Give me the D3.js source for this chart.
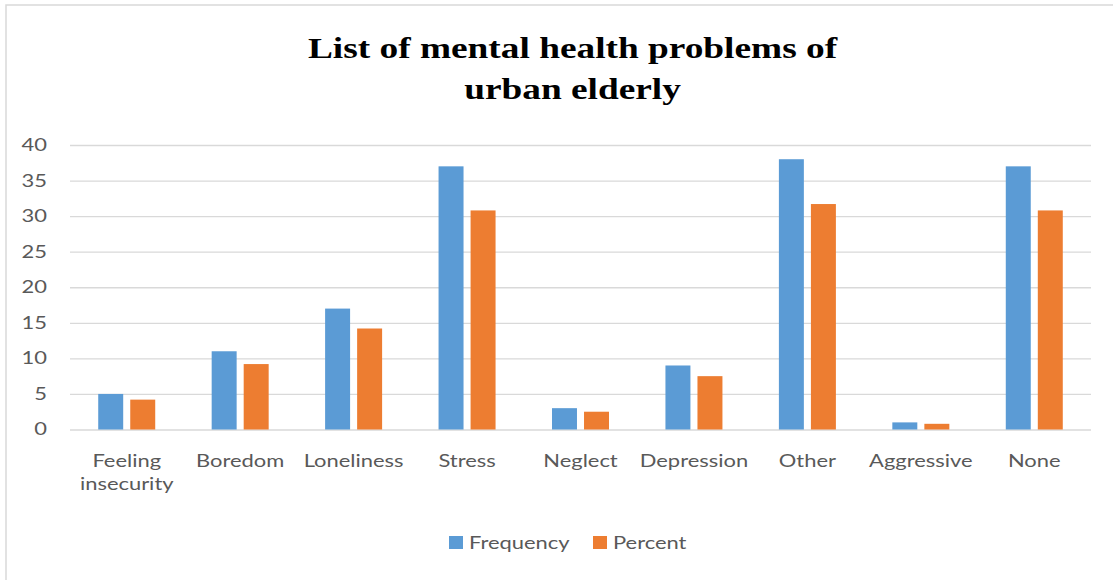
<!DOCTYPE html>
<html><head><meta charset="utf-8">
<script src="https://cdn.jsdelivr.net/npm/d3@7"></script>
<style>body{margin:0;background:#fff;} svg{display:block;}</style>
</head><body>
<svg id="c" width="1113" height="580"></svg>
<script>
const categories = ["Feeling insecurity","Boredom","Loneliness","Stress","Neglect","Depression","Other","Aggressive","None"];
const seriesNames = ["Frequency","Percent"];
const frequency = [5,11,17,37,3,9,38,1,37];
const percent = [4.2,9.2,14.2,30.8,2.5,7.5,31.7,0.8,30.8];
const yTicks = [0,5,10,15,20,25,30,35,40];
const titleLines = ["List of mental health problems of","urban elderly"];
const colors = ["#5B9BD5","#ED7D31"];

const svg = d3.select("#c");
const W = 1113, H = 580;
const m = {left:70, right:1091, top:145, bottom:429.5};
const labelFont = "Lato, 'Open Sans', sans-serif";
const labelSize = 17;
const stretch = 1.29;
const titleStretch = 1.245;

function stretchedText(g, x, yy, s, anchor) {
  return g.append("text").attr("transform",`translate(${x},${yy}) scale(${s},1)`)
    .attr("text-anchor",anchor||"middle");
}

svg.append("rect").attr("x",6).attr("y",5).attr("width",W+10).attr("height",H+10)
  .attr("fill","#fff").attr("stroke","#d9d9d9").attr("stroke-width",1.5);

const x0 = d3.scaleBand().domain(categories).range([m.left,m.right]).paddingInner(0).paddingOuter(0);
const x1 = d3.scaleBand().domain(seriesNames).range([0,57]).paddingInner(0.22).paddingOuter(0);
const y = d3.scaleLinear().domain([0,40]).range([m.bottom,m.top]);

// gridlines + y labels
const yAxis = d3.axisLeft(y).tickValues(yTicks).tickSize(-(m.right-m.left)).tickPadding(23);
const gy = svg.append("g").attr("transform",`translate(${m.left},0)`).call(yAxis);
gy.select(".domain").remove();
gy.selectAll(".tick line").attr("stroke","#d9d9d9").attr("stroke-width",1.3);
gy.selectAll(".tick text").attr("fill","#595959").attr("font-family",labelFont).attr("font-size",labelSize)
  .attr("text-anchor","end").attr("x",-23/stretch).attr("transform",`scale(${stretch},1)`);

const data = categories.map((c,i)=>({c, vals:[frequency[i],percent[i]]}));
const groups = svg.append("g").selectAll("g").data(data).join("g")
  .attr("transform",d=>`translate(${x0(d.c)+x0.bandwidth()/2-28.5},0)`);
groups.selectAll("rect").data(d=>d.vals.map((v,j)=>({v,s:seriesNames[j],j}))).join("rect")
  .attr("x",d=>x1(d.s)).attr("width",x1.bandwidth())
  .attr("y",d=>y(d.v)).attr("height",d=>y(0)-y(d.v))
  .attr("fill",d=>colors[d.j]);

// x labels
const xl = svg.append("g");
categories.forEach(c=>{
  const cx = x0(c)+x0.bandwidth()/2;
  const t = stretchedText(xl, cx, 467, stretch, "middle")
    .attr("fill","#595959").attr("font-family",labelFont).attr("font-size",labelSize).text(c);
  if (t.node().getComputedTextLength()*stretch > x0.bandwidth()) {
    const words = c.split(" ");
    t.text(null);
    words.forEach((w,k)=>t.append("tspan").attr("x",0).attr("dy",k?23:0).text(w));
  }
});

// title
titleLines.forEach((l,k)=>{
  stretchedText(svg, 572.5, 58+k*41, titleStretch, "middle")
    .attr("font-family","'Liberation Serif','Times New Roman',serif")
    .attr("font-weight","bold").attr("font-size",30).attr("fill","#000").text(l);
});

// legend
const lg = svg.append("g");
const legX = [449,593];
seriesNames.forEach((s,j)=>{
  lg.append("rect").attr("x",legX[j]).attr("y",536).attr("width",14).attr("height",13).attr("fill",colors[j]);
  stretchedText(lg, legX[j]+20, 549, stretch, "start").attr("fill","#595959")
    .attr("font-family",labelFont).attr("font-size",labelSize).text(s);
});
</script>
</body></html>
